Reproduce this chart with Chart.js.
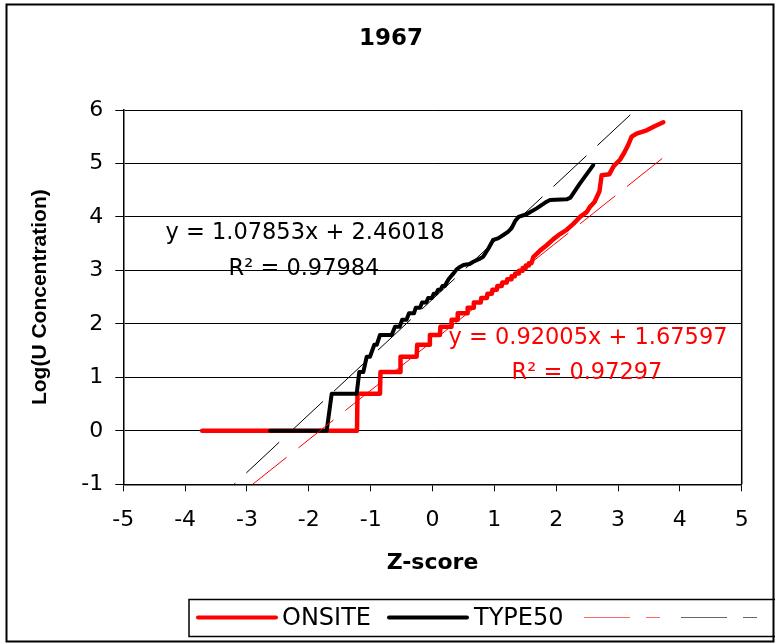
<!DOCTYPE html>
<html><head><meta charset="utf-8">
<style>html,body{margin:0;padding:0;background:#fff;overflow:hidden}canvas{display:block}</style>
<script src="https://cdn.jsdelivr.net/npm/chart.js@4.4.1/dist/chart.umd.min.js"></script>
</head><body>
<canvas id="c" width="775" height="643"></canvas>
<script>
const chartTitle = '1967';
const xTitle = 'Z-score';
const yTitle = 'Log(U Concentration)';
const seriesNames = ['ONSITE', 'TYPE50'];

const onsiteZ = [-3.725,-1.221,-1.213,-0.849,-0.841,-0.525,-0.517,-0.256,-0.248,-0.05,-0.042,0.12,0.128,0.30,0.308,0.40,0.408,0.56,0.568,0.66,0.668,0.78,0.788,0.88,0.888,0.96,0.968,1.04,1.048,1.12,1.128,1.20,1.208,1.27,1.278,1.33,1.338,1.39,1.398,1.45,1.458,1.50,1.508,1.55,1.558,1.60,1.63,1.738,1.846,1.95,2.062,2.17,2.277,2.385,2.493,2.547,2.62,2.70,2.735,2.86,2.93,3.032,3.10,3.166,3.22,3.30,3.463,3.60,3.732];
const onsiteLogU = [0,0,0.693,0.693,1.099,1.099,1.386,1.386,1.609,1.609,1.792,1.792,1.946,1.946,2.079,2.079,2.197,2.197,2.303,2.303,2.398,2.398,2.485,2.485,2.565,2.565,2.639,2.639,2.708,2.708,2.773,2.773,2.833,2.833,2.890,2.890,2.944,2.944,2.996,2.996,3.045,3.045,3.091,3.091,3.135,3.135,3.25,3.37,3.47,3.58,3.68,3.76,3.87,4.0,4.09,4.19,4.28,4.48,4.78,4.80,4.95,5.07,5.2,5.35,5.50,5.56,5.62,5.70,5.77];

const type50Z = [-2.625,-1.711,-1.630,-1.226,-1.184,-1.119,-1.064,-1.011,-0.941,-0.902,-0.849,-0.660,-0.606,-0.53,-0.49,-0.42,-0.38,-0.30,-0.27,-0.20,-0.17,-0.10,-0.07,-0.01,0.02,0.06,0.09,0.13,0.16,0.20,0.23,0.26,0.30,0.34,0.39,0.45,0.50,0.60,0.66,0.75,0.82,0.90,0.98,1.06,1.145,1.22,1.28,1.34,1.39,1.52,1.685,1.846,1.90,2.17,2.23,2.385,2.60];
const type50LogU = [0,0,0.693,0.693,1.099,1.099,1.386,1.386,1.609,1.609,1.792,1.792,1.946,1.946,2.079,2.079,2.197,2.197,2.303,2.303,2.398,2.398,2.485,2.485,2.565,2.565,2.639,2.639,2.708,2.708,2.773,2.833,2.890,2.944,3.02,3.07,3.10,3.12,3.163,3.21,3.257,3.40,3.57,3.60,3.662,3.72,3.79,3.93,4.0,4.05,4.16,4.285,4.317,4.33,4.36,4.629,4.97];

// linear trendlines as printed on the chart: [ONSITE, TYPE50]
const trendSlope = [0.92005, 1.07853];
const trendIntercept = [1.67597, 2.46018];
const trendR2 = [0.97297, 0.97984];
const trendZRange = [-3.72, 3.72];

const xMin = -5, xMax = 5, yMin = -1, yMax = 6, tickStep = 1;

const toPts = (xs, ys) => xs.map((x, i) => ({x, y: ys[i]}));
const trendPts = k => trendZRange.map(z => ({x: z, y: trendSlope[k] * z + trendIntercept[k]}));
const eqText = k => 'y = ' + trendSlope[k].toFixed(5) + 'x + ' + trendIntercept[k].toFixed(5);
const r2Text = k => 'R\u00B2 = ' + trendR2[k].toFixed(5);

Chart.defaults.font.family = "'DejaVu Sans', sans-serif";
Chart.defaults.color = '#000';

const decor = {
  id: 'decor',
  beforeDraw(chart) {
    const ctx = chart.ctx;
    ctx.save(); ctx.fillStyle = '#fff'; ctx.fillRect(0, 0, chart.width, chart.height); ctx.restore();
  },
  afterDraw(chart) {
    const ctx = chart.ctx, a = chart.chartArea;
    ctx.save();
    // plot area right border
    ctx.strokeStyle = '#000'; ctx.lineWidth = 1.5;
    ctx.beginPath(); ctx.moveTo(a.right, a.top); ctx.lineTo(a.right, a.bottom); ctx.stroke();
    // outer frame
    ctx.lineWidth = 2;
    ctx.strokeRect(6.5, 4.5, 767, 637);
    // title
    ctx.fillStyle = '#000';
    ctx.font = "bold 23px 'DejaVu Sans'";
    ctx.textAlign = 'center'; ctx.textBaseline = 'middle';
    ctx.fillText(chartTitle, 391, 39);
    // trendline equations
    ctx.font = "22.5px 'DejaVu Sans'";
    ctx.textBaseline = 'alphabetic';
    ctx.fillStyle = '#000';
    ctx.fillText(eqText(1), 305, 238.5);
    ctx.fillText(r2Text(1), 304, 275);
    ctx.fillStyle = '#ff0000';
    ctx.fillText(eqText(0), 588, 343.5);
    ctx.fillText(r2Text(0), 587, 378.5);
    // legend
    ctx.strokeStyle = '#000'; ctx.lineWidth = 1.5;
    ctx.strokeRect(189, 599.5, 620, 37);
    const ly = 617.5;
    ctx.lineCap = 'round';
    ctx.lineWidth = 4; ctx.strokeStyle = '#ff0000';
    ctx.beginPath(); ctx.moveTo(198, ly); ctx.lineTo(276, ly); ctx.stroke();
    ctx.strokeStyle = '#000';
    ctx.beginPath(); ctx.moveTo(389, ly); ctx.lineTo(467, ly); ctx.stroke();
    ctx.lineCap = 'butt'; ctx.lineWidth = 1.2;
    ctx.setLineDash([46, 16]);
    ctx.strokeStyle = '#ff6666';
    ctx.beginPath(); ctx.moveTo(584, ly); ctx.lineTo(660, ly); ctx.stroke();
    ctx.strokeStyle = '#666';
    ctx.beginPath(); ctx.moveTo(681, ly); ctx.lineTo(757, ly); ctx.stroke();
    ctx.setLineDash([]);
    ctx.fillStyle = '#000';
    ctx.font = "24px 'DejaVu Sans'";
    ctx.textAlign = 'left'; ctx.textBaseline = 'middle';
    ctx.fillText(seriesNames[0], 282, 619);
    ctx.fillText(seriesNames[1], 474, 619);
    ctx.restore();
  }
};

new Chart(document.getElementById('c'), {
  type: 'scatter',
  data: {
    datasets: [
      {label: seriesNames[1], data: toPts(type50Z, type50LogU), showLine: true, borderColor: '#000', borderWidth: 4,
       pointRadius: 0, borderCapStyle: 'round', borderJoinStyle: 'round', order: 1},
      {label: seriesNames[0], data: toPts(onsiteZ, onsiteLogU), showLine: true, borderColor: '#ff0000', borderWidth: 4.5,
       pointRadius: 0, borderCapStyle: 'round', borderJoinStyle: 'round', order: 2},
      {label: 'Linear (' + seriesNames[0] + ')', data: trendPts(0), showLine: true, borderColor: '#ff0000', borderWidth: 1,
       borderDash: [45, 15], borderDashOffset: -2.6, pointRadius: 0, order: 0},
      {label: 'Linear (' + seriesNames[1] + ')', data: trendPts(1), showLine: true, borderColor: '#000', borderWidth: 1,
       borderDash: [45, 15], pointRadius: 0, order: 0}
    ]
  },
  options: {
    responsive: false, animation: false, devicePixelRatio: 1,
    layout: {padding: {left: 0, top: 110, right: 33.3, bottom: 60}},
    plugins: {legend: {display: false}, tooltip: {enabled: false}, title: {display: false}},
    events: [],
    scales: {
      x: {
        type: 'linear', min: xMin, max: xMax,
        ticks: {stepSize: tickStep, color: '#000', font: {size: 22}, padding: 15.5, maxRotation: 0, autoSkip: false},
        grid: {drawOnChartArea: false, drawTicks: true, tickLength: 7, color: '#000', lineWidth: 1},
        border: {display: true, color: '#000', width: 1.5},
        title: {display: true, text: xTitle, color: '#000', font: {size: 22, weight: 'bold'}, padding: {top: 0, bottom: 6.8}},
        afterFit(s) { s.height = 98.7; }
      },
      y: {
        type: 'linear', min: yMin, max: yMax,
        ticks: {stepSize: tickStep, color: '#000', font: {size: 22}, padding: 12},
        grid: {color: '#000', lineWidth: 1, drawTicks: true, tickLength: 8},
        border: {display: true, color: '#000', width: 1.5},
        title: {display: true, text: yTitle, color: '#000', font: {family: "'Liberation Sans', Arial, sans-serif", size: 21, weight: 'bold'}, padding: {top: 27.4, bottom: 0}},
        afterFit(s) { s.width = 123.3; }
      }
    }
  },
  plugins: [decor]
});
</script>
</body></html>
